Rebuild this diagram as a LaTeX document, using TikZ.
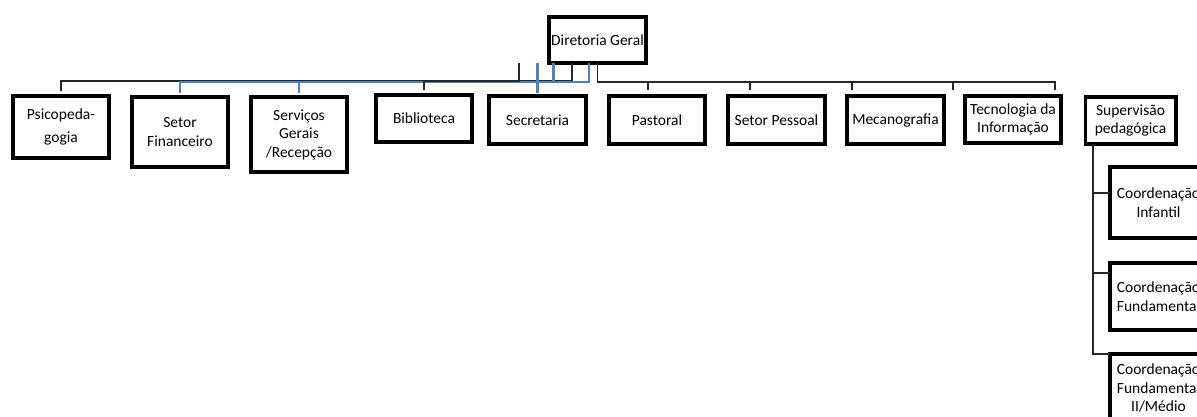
\documentclass[tikz,border=0pt]{standalone}
\usepackage{fontspec}
\setmainfont{Carlito}
\definecolor{linkblue}{RGB}{79,129,189}
\tikzset{
  box/.style={draw=black, line width=3.8pt, inner sep=0pt, outer sep=0pt, align=center,
    font=\fontsize{15.5}{18.5}\selectfont, fill=white},
  blk/.style={draw=black!85, line width=1.4pt},
  blu/.style={draw=linkblue, line width=2.2pt},
}
\begin{document}
\begin{tikzpicture}[x=1pt,y=-1pt]
\fill[white] (0,0) rectangle (1197,416);
\clip (0,0) rectangle (1197,416);
% top box
\node[box, minimum width=97.2, minimum height=46.2] (dg) at (597.5,40) {Diretoria Geral};
% second level
\node[box, minimum width=96.2, minimum height=62.2] (psi) at (61,127) {Psicopeda-\\[4pt]gogia};
\node[box, minimum width=96.2, minimum height=70.2] (fin) at (180,132) {Setor\\Financeiro};
\node[box, minimum width=96.2, minimum height=75.2] (serv) at (299,134.5) {Serviços\\Gerais\\/Recepção};
\node[box, minimum width=96.2, minimum height=47.2] (bib) at (424,118.5) {Biblioteca};
\node[box, minimum width=97.2, minimum height=48.2] (sec) at (537.5,120) {Secretaria};
\node[box, minimum width=96.2, minimum height=48.2] (pas) at (657,120) {Pastoral};
\node[box, minimum width=97.2, minimum height=48.2] (pes) at (776.5,120) {Setor Pessoal};
\node[box, minimum width=97.2, minimum height=48.2] (mec) at (895.5,120) {Mecanografia};
\node[box, minimum width=96.2, minimum height=47.2] (tec) at (1013,119.5) {Tecnologia da\\Informação};
\node[box, minimum width=90.2, minimum height=47.2] (sup) at (1130.5,120.5) {Supervisão\\pedagógica};
% third level
\node[box, minimum width=97.2, minimum height=71.2] (ci) at (1158.5,202.5) {Coordenação\\Infantil};
\node[box, minimum width=97.2, minimum height=67.2] (cf) at (1158.5,296.5) {Coordenação\\Fundamental};
\node[box, minimum width=97.2, minimum height=68.2] (cm) at (1158.5,388) {Coordenação\\Fundamental\\II/Médio};
% helper coordinates
\coordinate (bus) at (0,82);
\coordinate (d1) at (648,90);
\coordinate (d2) at (750,90);
\coordinate (d3) at (852,90);
\coordinate (d4) at (953,90);
\coordinate (d5) at (1055,90);
\coordinate (sp) at (1093,0);
\coordinate (b1) at (1093,193);
\coordinate (b2) at (1093,273);
% connectors
\draw[blk] ([xshift=-25.5pt]dg.south) -- ++(0,18) -| ([yshift=5pt]psi.north);
\draw[blu] (dg.south -| sec.north) -- ([yshift=3pt]sec.north);
\draw[blu] ([xshift=-44pt]dg.south) -- ++(0,19) -| ([yshift=4pt]fin.north);
\draw[blu] ([xshift=-8.5pt]dg.south) -- ++(0,19) -| ([yshift=4pt]serv.north);
\draw[blk] ([xshift=-78.5pt]dg.south) -- ++(0,18) -| ([yshift=5pt]bib.north);
\draw[blk] (dg.south) -- (dg.south |- bus) -| (d5);
\foreach \d in {d1,d2,d3,d4} \draw[blk] (\d |- bus) -- (\d);
\draw[blk] (sup.south -| sp) -- (sp |- cm.north) -- (cm.north west);
\draw[blk] (b1) -- (b1 -| ci.west);
\draw[blk] (b2) -- (b2 -| cf.west);
\end{tikzpicture}
\end{document}
